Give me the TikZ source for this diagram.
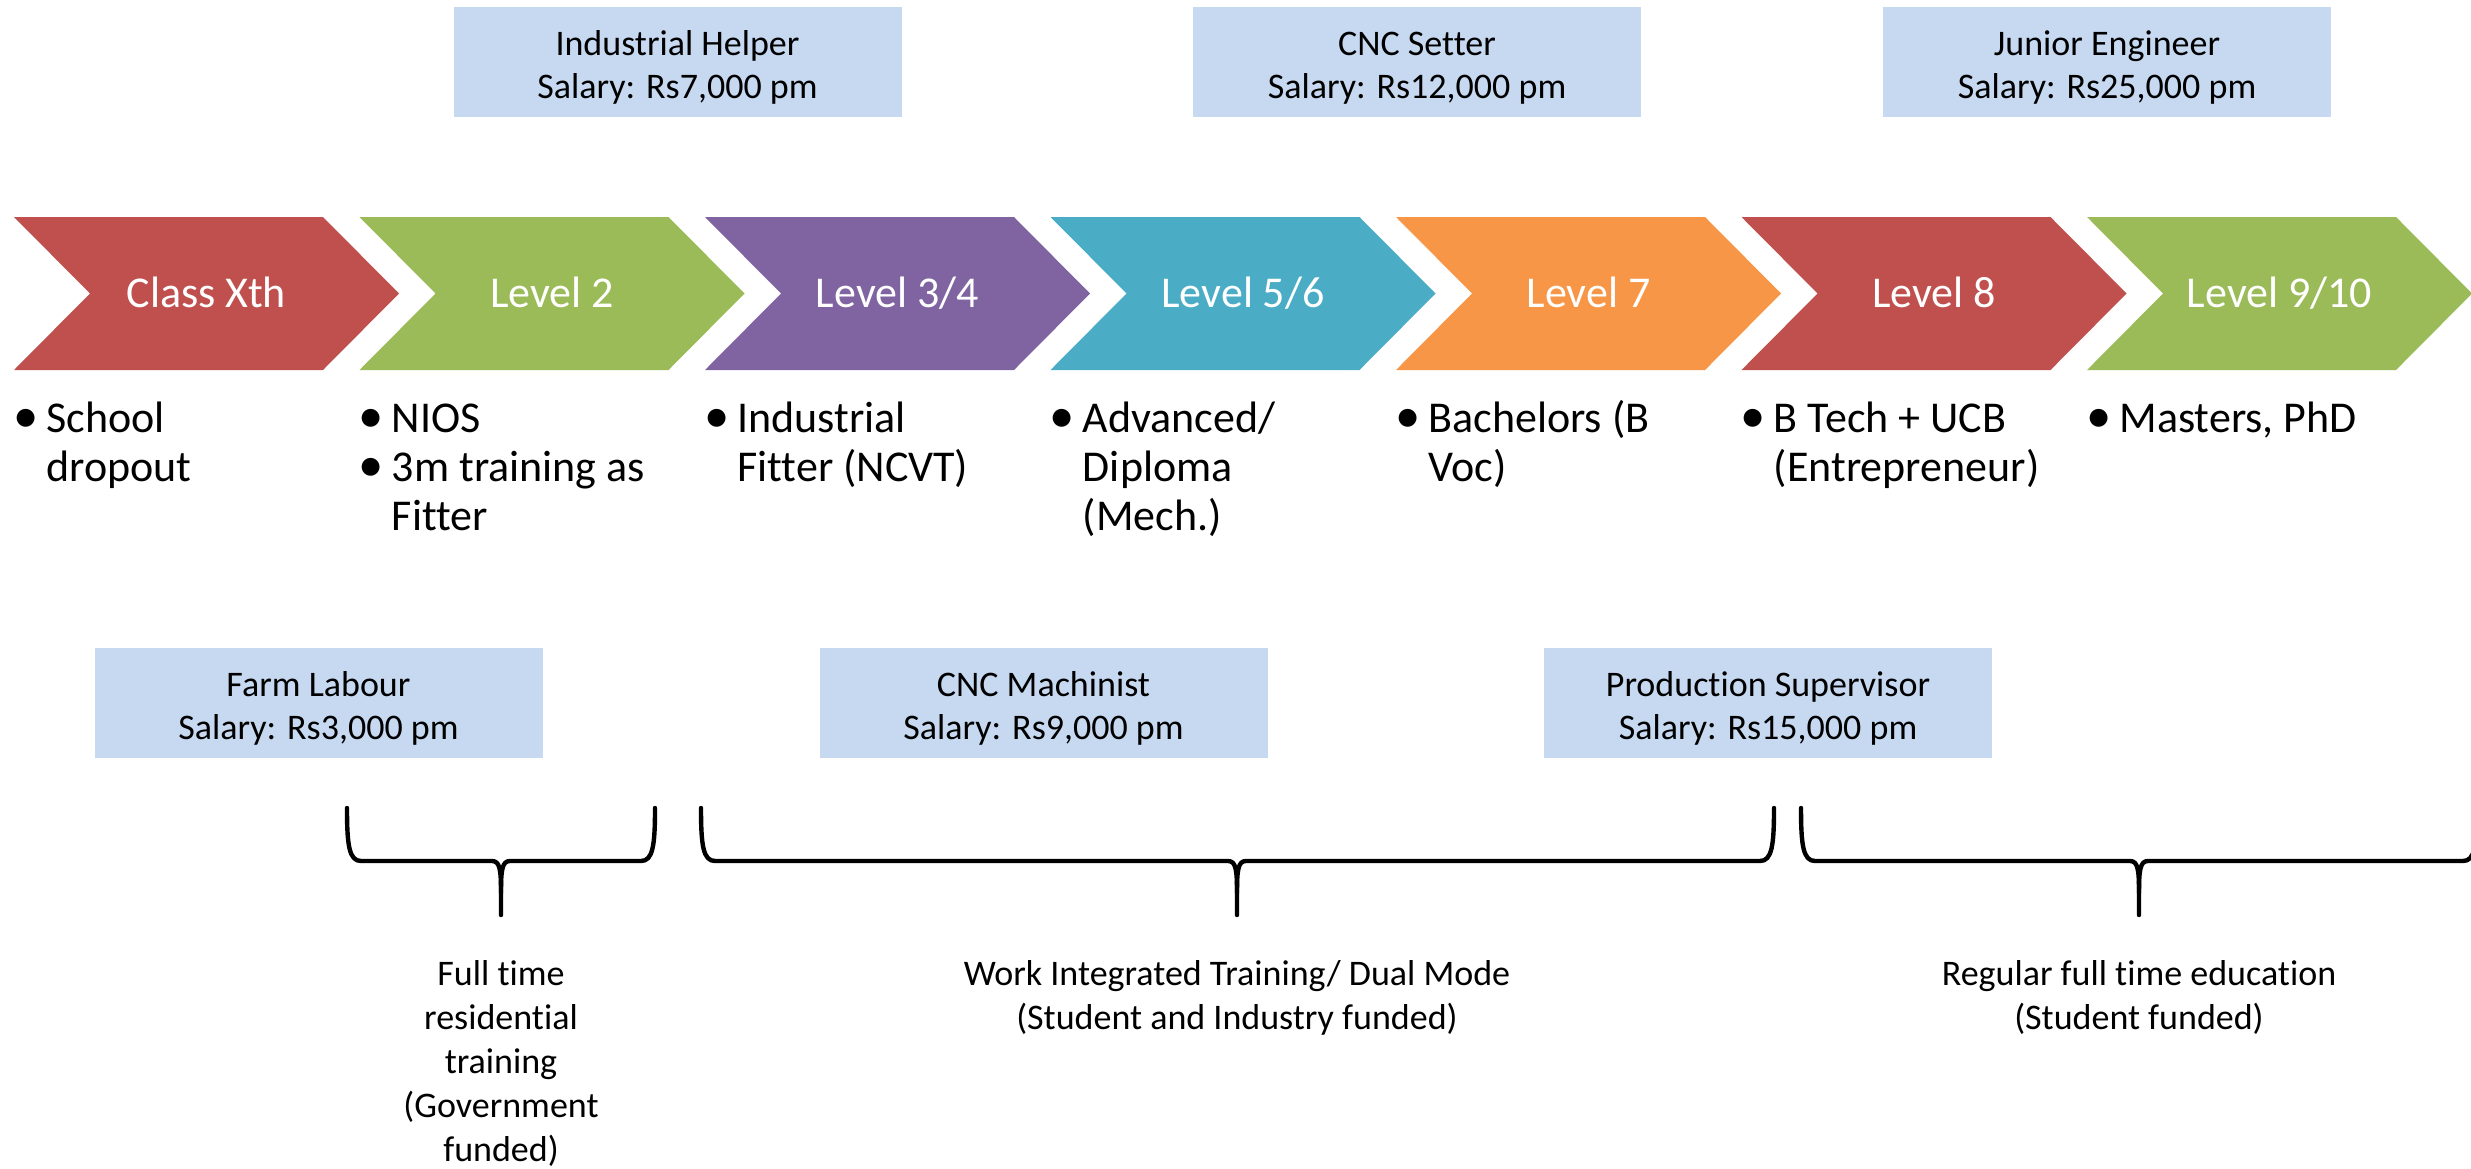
\documentclass[tikz,border=0pt]{standalone}
\usepackage{fontspec}
\setmainfont{Carlito}[Ligatures=CommonOff]
\usepackage{xcolor}
\usetikzlibrary{positioning}
\definecolor{lvlred}{HTML}{C0504D}
\definecolor{lvlgreen}{HTML}{9BBB59}
\definecolor{lvlpurple}{HTML}{8064A2}
\definecolor{lvlteal}{HTML}{4BACC6}
\definecolor{lvlorange}{HTML}{F79646}
\definecolor{jobblue}{HTML}{C6D9F1}
\newcommand\bulpt{\makebox[18pt][l]{\hspace{1.5pt}\scalebox{1.15}{\textbullet}}}
\newcommand\bulgap{\hspace*{18pt}}
\newcommand\jobstrut{\rule{0pt}{18pt}}

\begin{document}
\begin{tikzpicture}[
  x=0.5pt,y=-0.5pt,
  lvltext/.style={text=white,anchor=base,font=\fontsize{22}{26}\selectfont},
  job/.style={fill=jobblue,minimum width=224pt,minimum height=55pt,align=center,font=\fontsize{18}{21.5}\selectfont},
  points/.style={align=left,anchor=base west,inner sep=0pt,font=\fontsize{22}{24.5}\selectfont},
  note/.style={align=center,anchor=base,inner sep=0pt,font=\fontsize{18}{22}\selectfont},
  bracket/.style={line width=2.2pt,line cap=round,line join=round}
]
\useasboundingbox (0,0) rectangle (2471,1168);
\clip (0,0) rectangle (2471,1168);

% level chevrons
\foreach \c [count=\i from 0] in {lvlred,lvlgreen,lvlpurple,lvlteal,lvlorange,lvlred,lvlgreen}
  \fill[\c] ({14+345.5*\i},217) -- ++(309,0) -- ++(76,76.5) -- ++(-76,76.5) -- ++(-309,0) -- ++(76,-76.5) -- cycle;

\node[lvltext] (classx) at (206.5,307) {Class Xth};
\node[lvltext] (lvl2) at (552,307) {Level 2};
\node[lvltext] (lvl34) at (897.5,307) {Level 3/4};
\node[lvltext] (lvl56) at (1243,307) {Level 5/6};
\node[lvltext] (lvl7) at (1588.5,307) {Level 7};
\node[lvltext] (lvl8) at (1934,307) {Level 8};
\node[lvltext] (lvl910) at (2279.5,307) {Level 9/10};

% what each level means (anchored on the last line)
\node[points] (dropout) at (10,481) {\bulpt School\\\bulgap dropout};
\node[points] (nios) at (355.5,530) {\bulpt NIOS\\\bulpt 3m training as\\\bulgap Fitter};
\node[points] (fitter) at (701,481) {\bulpt Industrial\\\bulgap Fitter (NCVT)};
\node[points] (diploma) at (1046.5,530) {\bulpt Advanced/\\\bulgap Diploma\\\bulgap (Mech.)};
\node[points] (bvoc) at (1392,481) {\bulpt Bachelors (B\\\bulgap Voc)};
\node[points] (btech) at (1737.5,481) {\bulpt B Tech + UCB\\\bulgap (Entrepreneur)};
\node[points] (masters) at (2083,432) {\bulpt Masters, PhD};

% jobs and salaries
\node[job] (helper) at (677.5,61.5) {\jobstrut Industrial Helper\\Salary: Rs7,000 pm};
\node[job] (setter) at (1417,61.5) {\jobstrut CNC Setter\\Salary: Rs12,000 pm};
\node[job] (engineer) at (2107,61.5) {\jobstrut Junior Engineer\\Salary: Rs25,000 pm};
\node[job] (labour) at (318.5,702.5) {\jobstrut Farm Labour\\Salary: Rs3,000 pm};
\node[job] (machinist) at (1043.5,702.5) {\jobstrut CNC Machinist\\Salary: Rs9,000 pm};
\node[job] (supervisor) at (1768,702.5) {\jobstrut Production Supervisor\\Salary: Rs15,000 pm};

% braces over the training modes
\foreach \xa/\xm/\xb [count=\i] in {347/501/655,701/1237/1774,1801/2139/2477}{
  \draw[bracket] (\xa,808) .. controls (\xa,845) and (\xa+2,861) .. (\xa+14,861) -- (\xm-9,861)
    .. controls (\xm-1,861) and (\xm,870) .. (\xm,893) -- (\xm,915);
  \draw[bracket] (\xm,893) .. controls (\xm,870) and (\xm+1,861) .. (\xm+9,861) -- (\xb-14,861)
    .. controls (\xb-2,861) and (\xb,845) .. (\xb,808);
  \coordinate (tip\i) at (\xm,915);
}

\node[note] (fulltime) at (501,1161) {Full time\\residential\\training\\(Government\\funded)};
\node[note] (dualmode) at (1237,1029) {Work Integrated Training/ Dual Mode\\(Student and Industry funded)};
\node[note] (regular) at (2139,1029) {Regular full time education\\(Student funded)};
\end{tikzpicture}
\end{document}
